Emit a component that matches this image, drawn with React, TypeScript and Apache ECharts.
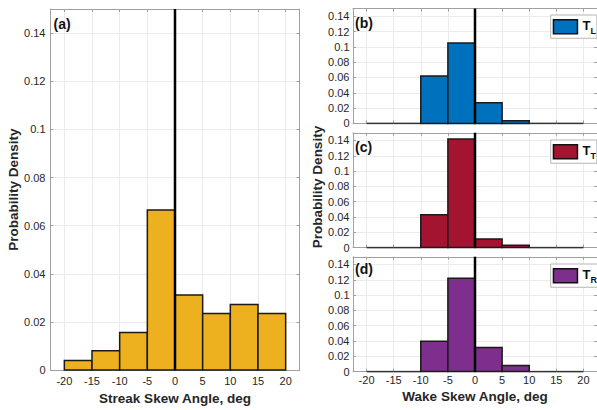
import React, { useEffect, useRef } from 'react';
import * as echarts from 'echarts';

const binEdges = [-20, -15, -10, -5, 0, 5, 10, 15, 20];
const xTicks = [-20, -15, -10, -5, 0, 5, 10, 15, 20];
const yTicks = [0, 0.02, 0.04, 0.06, 0.08, 0.1, 0.12, 0.14];
const streakDensity = [0.004, 0.008, 0.0156, 0.0665, 0.0312, 0.0235, 0.0273, 0.0235];
const wakeTL = [0, 0, 0.062, 0.105, 0.027, 0.0035, 0, 0];
const wakeTT = [0, 0, 0.0428, 0.1418, 0.0113, 0.003, 0, 0];
const wakeTR = [0, 0, 0.0398, 0.122, 0.0315, 0.0079, 0, 0];
const panelLabels = ['(a)', '(b)', '(c)', '(d)'];
const seriesNames = ['Streak', 'TL', 'TT', 'TR'];
const legendSubs = ['', 'L', 'T', 'R'];
const panelColors = ['#EDB120', '#0072BD', '#A2142F', '#7E2F8E'];
const xTitleA = 'Streak Skew Angle, deg';
const xTitleD = 'Wake Skew Angle, deg';
const yTitle = 'Probability Density';

const FONT = '"Liberation Sans", Arial, Helvetica, sans-serif';
const axisColor = '#a0a0a0';
const gridColor = '#ebebeb';
const labelColor = '#262626';

const grids = [
  { left: 50.5, top: 9, width: 249, height: 362 },
  { left: 353, top: 8.6, width: 248, height: 114.8 },
  { left: 353, top: 132.8, width: 248, height: 114.8 },
  { left: 353, top: 256.8, width: 248, height: 114.8 },
];
const legendTops = [0, 15, 140, 264];
const labelPos = [
  [53.5, 17],
  [355, 15.5],
  [355, 139.5],
  [355, 262],
];

const fmtY = (v: number) => String(parseFloat(v.toFixed(3)));

export default function App() {
  const ref = useRef<HTMLDivElement>(null);
  useEffect(() => {
    if (!ref.current) return;
    const chart = echarts.init(ref.current, undefined, { renderer: 'svg' });
    const allData = [streakDensity, wakeTL, wakeTT, wakeTR];
    const xAxes: any[] = [];
    const yAxes: any[] = [];
    const series: any[] = [];
    const legends: any[] = [];
    const graphics: any[] = [];

    grids.forEach((g, i) => {
      const showX = i === 0 || i === 3;
      xAxes.push({
        type: 'value', gridIndex: i, position: 'bottom', min: -22.5, max: 22.5,
        axisLine: { show: true, onZero: false, lineStyle: { color: axisColor, width: 1 } },
        axisTick: { show: true, inside: true, length: 3, customValues: xTicks, lineStyle: { color: axisColor } },
        axisLabel: { show: showX, customValues: xTicks, margin: i === 0 ? 5 : 3, fontSize: 11, color: labelColor, fontFamily: FONT },
        splitLine: { show: true, lineStyle: { color: gridColor, width: 1 } },
        name: i === 0 ? xTitleA : i === 3 ? xTitleD : '',
        nameLocation: 'middle', nameGap: i === 0 ? 19.5 : 18,
        nameTextStyle: { fontWeight: 'bold', fontSize: 13.5, color: labelColor, fontFamily: FONT },
      });
      xAxes.push({
        type: 'value', gridIndex: i, position: 'top', min: -22.5, max: 22.5,
        axisLine: { show: true, onZero: false, lineStyle: { color: axisColor, width: 1 } },
        axisTick: { show: true, inside: true, length: 3, customValues: xTicks, lineStyle: { color: axisColor } },
        axisLabel: { show: false },
        splitLine: { show: false },
      });
      yAxes.push({
        type: 'value', gridIndex: i, position: 'left', min: 0, max: 0.15,
        axisLine: { show: true, onZero: false, lineStyle: { color: axisColor, width: 1 } },
        axisTick: { show: true, inside: true, length: 3, customValues: yTicks, lineStyle: { color: axisColor } },
        axisLabel: { show: true, customValues: yTicks, margin: i === 0 ? 5 : 3.5, fontSize: 11, color: labelColor, fontFamily: FONT, formatter: fmtY },
        splitLine: { show: true, lineStyle: { color: gridColor, width: 1 } },
        name: i === 0 ? yTitle : '',
        nameLocation: 'middle', nameGap: 29,
        nameTextStyle: { fontWeight: 'bold', fontSize: 13.5, color: labelColor, fontFamily: FONT },
      });
      yAxes.push({
        type: 'value', gridIndex: i, position: 'right', min: 0, max: 0.15,
        axisLine: { show: true, onZero: false, lineStyle: { color: axisColor, width: 1 } },
        axisTick: { show: true, inside: true, length: 3, customValues: yTicks, lineStyle: { color: axisColor } },
        axisLabel: { show: false },
        splitLine: { show: false },
      });

      const color = panelColors[i];
      series.push({
        type: 'custom', name: seriesNames[i],
        xAxisIndex: 2 * i, yAxisIndex: 2 * i,
        itemStyle: { color },
        encode: { x: [0, 1], y: 2 },
        data: allData[i].map((v, k) => [binEdges[k], binEdges[k + 1], v]),
        z: 2,
        renderItem: (params: any, api: any) => {
          const x0 = api.value(0), x1 = api.value(1), v = api.value(2);
          const p0 = api.coord([x0, v]);
          const p1 = api.coord([x1, 0]);
          if (v === 0) {
            return { type: 'line', shape: { x1: p0[0], y1: p1[1], x2: p1[0], y2: p1[1] }, style: { stroke: '#333', lineWidth: 1.5 } };
          }
          return {
            type: 'rect',
            shape: { x: p0[0], y: p0[1], width: p1[0] - p0[0], height: p1[1] - p0[1] },
            style: { fill: color, stroke: '#1a1a1a', lineWidth: 1.5 },
          };
        },
      });
      series.push({
        type: 'line', xAxisIndex: 2 * i, yAxisIndex: 2 * i,
        data: [[0, 0], [0, 0.15]], symbol: 'none', silent: true,
        lineStyle: { color: '#000', width: 2.5 }, z: 5,
      });

      if (i > 0) {
        const sub = legendSubs[i];
        legends.push({
          data: [{ name: seriesNames[i] }], left: 550.7, top: legendTops[i], orient: 'vertical',
          padding: [4, 1, 3, 2], itemWidth: 24, itemHeight: 14, icon: 'rect',
          borderColor: '#b5b5b5', borderWidth: 1, backgroundColor: '#fff', borderRadius: 0,
          selectedMode: false,
          itemStyle: { borderColor: '#111', borderWidth: 1.5 },
          formatter: () => '{t|T}{s|' + sub + '}',
          textStyle: {
            fontFamily: FONT,
            rich: {
              t: { fontSize: 13, fontWeight: 'bold', color: '#111', fontFamily: FONT, verticalAlign: 'top', lineHeight: 15 },
              s: { fontSize: 9, fontWeight: 'bold', color: '#111', fontFamily: FONT, verticalAlign: 'top', lineHeight: 9, padding: [7, 0, 0, 0] },
            },
          },
        });
      }

      graphics.push({
        type: 'text', x: labelPos[i][0], y: labelPos[i][1], z: 100,
        style: { text: panelLabels[i], font: 'bold 14px ' + FONT, fill: '#111', verticalAlign: 'top', align: 'left' },
      });
    });

    graphics.push({
      type: 'text', x: 317, y: 187, rotation: Math.PI / 2, z: 100,
      style: { text: yTitle, font: 'bold 13.5px ' + FONT, fill: labelColor, align: 'center', verticalAlign: 'middle' },
    });

    chart.setOption({
      animation: false,
      backgroundColor: '#fff',
      textStyle: { fontFamily: FONT },
      grid: grids.map((g) => ({ ...g, containLabel: false })),
      xAxis: xAxes,
      yAxis: yAxes,
      series,
      legend: legends,
      graphic: graphics,
    });
    return () => chart.dispose();
  }, []);
  return <div ref={ref} style={{ position: 'fixed', left: 0, top: 0, width: 597, height: 410 }} />;
}
